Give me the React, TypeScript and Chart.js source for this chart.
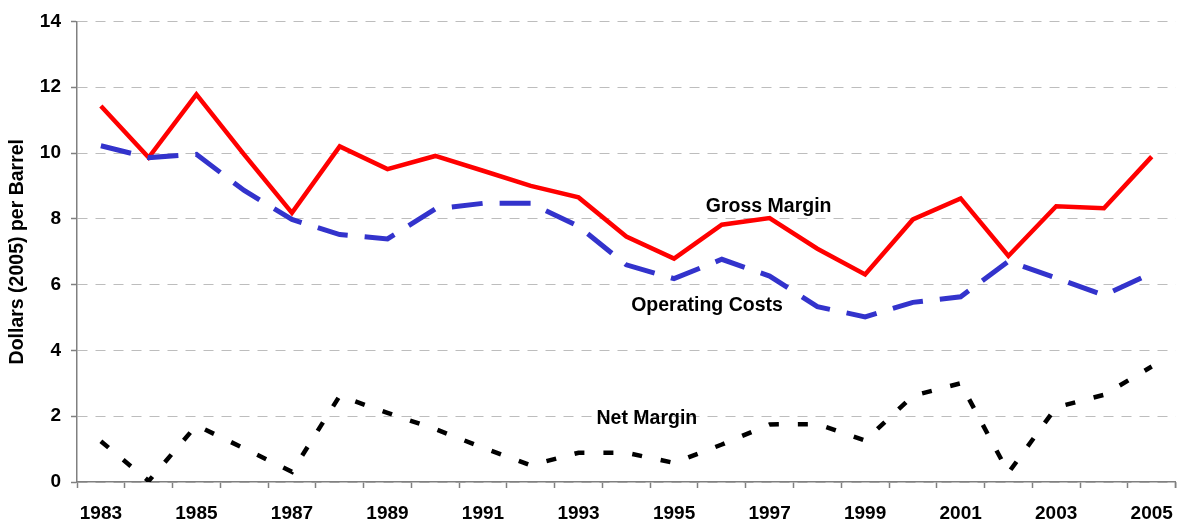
import React, { useEffect, useRef } from "react";
import { Chart, registerables } from "chart.js";

Chart.register(...registerables);

const years = [
  "1983", "1984", "1985", "1986", "1987", "1988", "1989", "1990", "1991", "1992", "1993", "1994",
  "1995", "1996", "1997", "1998", "1999", "2000", "2001", "2002", "2003", "2004", "2005",
];

const grossMargin = [
  11.43, 9.86, 11.78, 9.95, 8.18, 10.2, 9.51, 9.91, 9.46, 9.0, 8.65, 7.46,
  6.79, 7.82, 8.02, 7.09, 6.31, 7.98, 8.62, 6.87, 8.38, 8.32, 9.89,
];

const operatingCosts = [
  10.22, 9.86, 9.96, 8.86, 7.98, 7.52, 7.39, 8.3, 8.47, 8.47, 7.77, 6.6,
  6.18, 6.77, 6.26, 5.33, 5.02, 5.46, 5.63, 6.71, 6.2, 5.68, 6.35,
];

const netMargin = [
  1.24, 0.03, 1.72, 1.02, 0.31, 2.62, 2.1, 1.61, 1.04, 0.51, 0.89, 0.89,
  0.58, 1.14, 1.75, 1.76, 1.26, 2.62, 3.0, 0.28, 2.27, 2.65, 3.51,
];

const yTicks = [0, 2, 4, 6, 8, 10, 12, 14];

const annotationLabels = ["Gross Margin", "Operating Costs", "Net Margin"];
const annotationX = [13.98, 12.69, 11.43];
const annotationY = [8.38, 5.35, 1.94];

const FONT = "'Liberation Sans', Arial, Helvetica, sans-serif";

export default function App() {
  const canvasRef = useRef<HTMLCanvasElement | null>(null);

  useEffect(() => {
    if (!canvasRef.current) return;

    const annotationPlugin = {
      id: "annotations",
      afterDatasetsDraw(chart: any) {
        const ctx = chart.ctx;
        const xs = chart.scales.x;
        const ys = chart.scales.y;
        ctx.save();
        ctx.font = `bold 19.5px ${FONT}`;
        ctx.fillStyle = "#000";
        ctx.textAlign = "center";
        ctx.textBaseline = "middle";
        annotationLabels.forEach((t, i) => {
          ctx.fillText(t, xs.getPixelForValue(annotationX[i]), ys.getPixelForValue(annotationY[i]));
        });
        // closing tick mark at right end of x axis
        const ca = chart.chartArea;
        ctx.strokeStyle = "#808080";
        ctx.lineWidth = 1.5;
        ctx.beginPath();
        ctx.moveTo(ca.right, ca.bottom);
        ctx.lineTo(ca.right, ca.bottom + 6);
        ctx.stroke();
        ctx.restore();
      },
    };

    const chart = new Chart(canvasRef.current, {
      type: "line",
      data: {
        labels: years,
        datasets: [
          {
            label: "Net Margin",
            data: netMargin,
            borderColor: "#000000",
            borderWidth: 4.5,
            borderDash: [10, 19],
            borderCapStyle: "butt",
            pointRadius: 0,
            tension: 0,
            fill: false,
          },
          {
            label: "Operating Costs",
            data: operatingCosts,
            borderColor: "#3333CC",
            borderWidth: 5,
            borderDash: [31, 17],
            borderCapStyle: "butt",
            pointRadius: 0,
            tension: 0,
            fill: false,
          },
          {
            label: "Gross Margin",
            data: grossMargin,
            borderColor: "#FF0000",
            borderWidth: 4.5,
            pointRadius: 0,
            tension: 0,
            fill: false,
          },
        ],
      },
      options: {
        responsive: false,
        animation: false,
        layout: { padding: { top: 18, right: 7, bottom: 0, left: 0 } },
        plugins: {
          legend: { display: false },
          tooltip: { enabled: false },
          title: { display: false },
        },
        scales: {
          x: {
            type: "category",
            offset: true,
            grid: {
              display: true,
              offset: true,
              drawOnChartArea: false,
              drawTicks: true,
              tickLength: 6,
              tickColor: "#808080",
              tickWidth: 1.5,
            },
            border: { display: true, color: "#808080", width: 1.5 },
            ticks: {
              autoSkip: false,
              maxRotation: 0,
              minRotation: 0,
              padding: 14,
              color: "#000",
              font: { family: FONT, size: 19, weight: "bold" },
              callback: (_v: any, i: number) => (i % 2 === 0 ? years[i] : ""),
            },
            afterFit: (scale: any) => {
              scale.height = 43;
            },
          },
          y: {
            min: 0,
            max: 14,
            afterBuildTicks: (scale: any) => {
              scale.ticks = yTicks.map((v) => ({ value: v }));
            },
            grid: {
              color: "#BDBDBD",
              lineWidth: 1,
              drawTicks: true,
              tickLength: 6,
              tickColor: "#808080",
              tickWidth: 1.5,
            },
            border: { display: true, color: "#808080", width: 1.5, dash: [10, 8] },
            ticks: {
              padding: 10,
              color: "#000",
              font: { family: FONT, size: 19, weight: "bold" },
            },
            title: {
              display: true,
              text: "Dollars (2005) per Barrel",
              color: "#000",
              font: { family: FONT, size: 19.5, weight: "bold" },
              padding: { top: 6, bottom: 0 },
            },
            afterFit: (scale: any) => {
              scale.width = 77;
            },
          },
        },
      },
      plugins: [annotationPlugin],
    } as any);

    return () => {
      chart.destroy();
    };
  }, []);

  return (
    <div style={{ position: "fixed", left: 0, top: 0, width: 1187, height: 525, background: "#fff" }}>
      <canvas ref={canvasRef} width={1187} height={525} style={{ display: "block" }} />
    </div>
  );
}
